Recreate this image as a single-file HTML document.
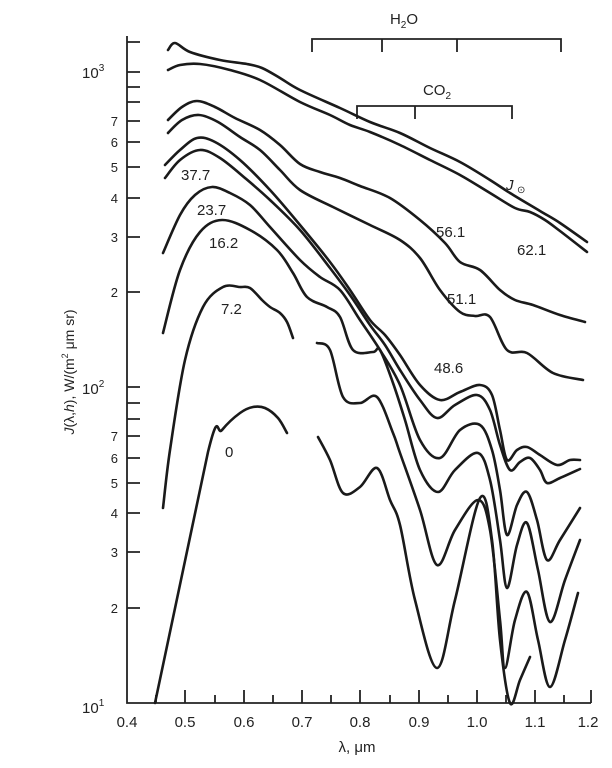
<!DOCTYPE html>
<html><head><meta charset="utf-8"><style>
html,body{margin:0;padding:0;background:#fff;}
svg{display:block;font-family:"Liberation Sans",sans-serif;}
</style></head><body>
<svg id="s" width="612" height="768" viewBox="0 0 612 768" xmlns="http://www.w3.org/2000/svg">
<g stroke="#222" stroke-width="1.8" fill="none">
<path d="M127 36V703H591"/>
<path d="M127 42h13M127 72h13M127 87h13M127 102h13M127 121h13M127 142h13M127 167h13M127 198h13M127 237h13M127 292h13M127 387h13M127 403h13M127 419h13M127 436h13M127 458h13M127 483h13M127 513h13M127 552h13M127 608h13"/>
<path d="M185 703v-13M244 703v-13M302 703v-13M360 703v-13M419 703v-13M477 703v-13M535 703v-13M591 703v-13M156 703v-8M215 703v-8M273 703v-8M331 703v-8M390 703v-8M448 703v-8M506 703v-8M564 703v-8"/>
<path d="M312 52V39H561V52M382 39V52M457 39V52"/>
<path d="M357 119V106H512V119M415 106V119"/>
</g>
<g id="curves" stroke="#1a1a1a" stroke-width="2.6" fill="none" stroke-linejoin="round" stroke-linecap="round"></g>
<g font-size="15" fill="#222">
<text x="82" y="78">10<tspan font-size="10" dy="-7">3</tspan></text>
<text x="82" y="394">10<tspan font-size="10" dy="-7">2</tspan></text>
<text x="82" y="713">10<tspan font-size="10" dy="-7">1</tspan></text>
<g font-size="13" text-anchor="end">
<text x="118" y="126">7</text><text x="118" y="147">6</text><text x="118" y="172">5</text><text x="118" y="203">4</text><text x="118" y="242">3</text><text x="118" y="297">2</text>
<text x="118" y="441">7</text><text x="118" y="463">6</text><text x="118" y="488">5</text><text x="118" y="518">4</text><text x="118" y="557">3</text><text x="118" y="613">2</text>
</g>
<g text-anchor="middle">
<text x="127" y="727">0.4</text><text x="185" y="727">0.5</text><text x="244" y="727">0.6</text><text x="302" y="727">0.7</text><text x="360" y="727">0.8</text><text x="419" y="727">0.9</text><text x="477" y="727">1.0</text><text x="535" y="727">1.1</text><text x="588" y="727">1.2</text>
<text x="357" y="752">λ, μm</text>
<text x="404" y="24">H<tspan font-size="10" dy="4">2</tspan><tspan dy="-4">O</tspan></text>
<text x="437" y="95">CO<tspan font-size="10" dy="4">2</tspan></text>
</g>
<text transform="translate(74,372) rotate(-90)" text-anchor="middle" font-size="14"><tspan font-style="italic">J</tspan>(λ,<tspan font-style="italic">h</tspan>), W/(m<tspan font-size="9" dy="-6">2</tspan><tspan dy="6"> μm sr)</tspan></text>
<text x="506" y="190" font-style="italic">J</text><text x="517" y="193" font-size="10">⊙</text>
<text x="436" y="237">56.1</text>
<text x="517" y="255">62.1</text>
<text x="447" y="304">51.1</text>
<text x="434" y="373">48.6</text>
<text x="181" y="180">37.7</text>
<text x="197" y="215">23.7</text>
<text x="209" y="248">16.2</text>
<text x="221" y="314">7.2</text>
<text x="225" y="457">0</text>
</g>
</svg>
<script>
var C=[
[[168,50],[175,43],[190,52],[220,60],[247,64],[262,68],[280,78],[300,90],[340,108],[370,122],[400,133],[430,148],[460,162],[490,180],[510,193],[540,211],[560,223],[587,242]],
[[168,70],[180,65],[200,64],[230,70],[260,80],[300,102],[330,115],[350,125],[370,132],[400,145],[430,160],[460,175],[490,193],[515,208],[530,212],[545,220],[560,231],[587,252]],
[[168,120],[182,107],[197,101],[215,107],[235,118],[260,130],[280,145],[300,164],[320,172],[340,178],[360,186],[390,198],[420,220],[445,243],[460,262],[480,270],[500,290],[515,300],[533,305],[560,315],[585,322]],
[[168,133],[182,120],[199,115],[218,122],[240,137],[260,150],[280,170],[300,190],[333,207],[370,225],[400,240],[420,258],[440,290],[460,312],[475,316],[490,317],[507,350],[527,353],[553,373],[583,380]],
[[165,165],[180,150],[197,138],[215,142],[240,160],[270,190],[300,225],[330,262],[350,290],[370,320],[385,335],[400,355],[420,385],[440,400],[460,392],[480,385],[492,395],[500,430],[507,460],[517,450],[527,447],[540,455],[557,465],[570,460],[580,460]],
[[165,178],[180,160],[200,150],[220,158],[245,178],[270,200],[300,230],[330,268],[350,295],[370,325],[385,345],[400,370],[420,400],[437,418],[455,405],[477,395],[490,410],[500,445],[510,470],[520,462],[530,458],[540,470],[547,483],[560,478],[580,469]],
[[163,253],[180,215],[195,195],[212,187],[230,193],[250,205],[270,227],[300,260],[320,277],[340,290],[360,320],[380,350],[400,385],[420,440],[440,458],[460,430],[480,425],[492,450],[500,490],[507,535],[517,505],[527,492],[537,520],[547,560],[560,540],[580,508]],
[[163,333],[180,270],[200,232],[222,220],[250,230],[277,250],[293,273],[307,297],[327,307],[340,317],[353,350],[373,352],[380,350],[393,383],[405,420],[420,470],[438,492],[455,470],[478,453],[490,480],[500,540],[507,588],[517,545],[527,523],[538,570],[550,622],[565,580],[580,540]],
[[163,508],[170,450],[185,360],[203,307],[223,287],[240,287],[250,288],[262,300],[270,307],[280,313],[287,322],[293,338]],
[[317,343],[330,350],[343,397],[360,403],[377,397],[393,433],[400,453],[420,510],[437,565],[455,530],[478,500],[490,530],[500,620],[505,668],[515,620],[527,592],[538,640],[550,687],[565,640],[578,593]],
[[155,703],[208,452],[222,430],[240,413],[253,407],[265,408],[278,418],[287,433]],
[[318,437],[330,460],[343,493],[360,487],[377,468],[390,500],[400,525],[415,600],[437,668],[455,600],[480,498],[492,540],[500,640],[510,703],[520,680],[530,657]]
];
var g=document.getElementById('curves'),ns="http://www.w3.org/2000/svg";
C.forEach(function(p,k){
  var d="M"+p[0][0]+" "+p[0][1];
  for(var i=0;i<p.length-1;i++){
    var p0=p[i-1]||p[i],p1=p[i],p2=p[i+1],p3=p[i+2]||p2;
    if(k==10&&i==0){d+="L"+p2[0]+" "+p2[1];continue;}
    var c1=[p1[0]+(p2[0]-p0[0])/6,p1[1]+(p2[1]-p0[1])/6],c2=[p2[0]-(p3[0]-p1[0])/6,p2[1]-(p3[1]-p1[1])/6];
    d+="C"+c1[0].toFixed(1)+" "+c1[1].toFixed(1)+" "+c2[0].toFixed(1)+" "+c2[1].toFixed(1)+" "+p2[0]+" "+p2[1];
  }
  var e=document.createElementNS(ns,"path");e.setAttribute("d",d);g.appendChild(e);
});
</script>
</body></html>
